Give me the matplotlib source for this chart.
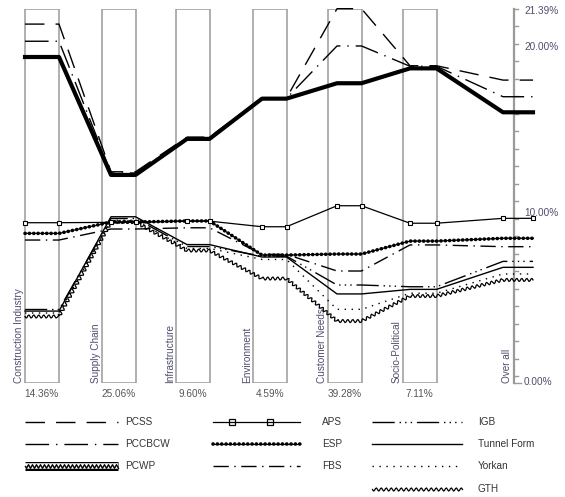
import matplotlib.pyplot as plt
from matplotlib.patches import Rectangle

plt.rcParams["font.family"] = ["Liberation Sans", "DejaVu Sans"]
plt.rcParams["font.size"] = 7.2

# ---- performance sensitivity data (% priority per criterion) ----------
criteria = ["Construction Industry", "Supply Chain", "Infrastructure",
            "Environment", "Customer Needs", "Socio-Political", "Over all"]
weights = [14.36, 25.06, 9.60, 4.59, 39.28, 7.11]

pcss = [20.51, 12.07, 14.05, 16.29, 21.39, 18.13, 17.31]
pccbcw = [19.53, 12.00, 14.00, 16.27, 19.26, 18.10, 16.36]
pcwp = [18.63, 11.89, 13.95, 16.25, 17.13, 17.98, 15.47]
aps = [9.16, 9.18, 9.25, 8.93, 10.13, 9.13, 9.41]
esp = [8.55, 9.20, 9.26, 7.31, 7.37, 8.11, 8.27]
fbs = [8.17, 8.80, 8.87, 7.35, 6.40, 7.89, 7.79]
igb = [4.20, 9.40, 7.80, 7.25, 5.60, 5.50, 6.95]
tunnel = [4.11, 9.50, 7.91, 7.20, 5.09, 5.35, 6.61]
yorkan = [4.00, 9.30, 7.69, 7.06, 4.21, 5.13, 6.23]
gth = [3.80, 9.20, 7.57, 5.97, 3.54, 4.97, 5.89]

alternatives = ["PCSS", "PCCBCW", "PCWP", "APS", "ESP", "FBS",
                "IGB", "Tunnel Form", "Yorkan", "GTH"]
series = dict(zip(alternatives, [pcss, pccbcw, pcwp, aps, esp, fbs,
                                 igb, tunnel, yorkan, gth]))

y_max = 21.39
axis_labels = [21.39, 20.0, 10.0, 0.0]

# ---- layout (pixel units) ---------------------------------------------
W, H = 565, 497
Y0_PX, YTOP_PX = 383, 8.7
bar_left = [25, 102, 176, 253, 328, 403]
bar_w = 33.5
spans = [(25, 59), (111, 135.5), (187, 209.5), (262, 286.5),
         (337, 361.5), (410, 436.5), (503, 533)]
axis_x = 514
label_shift = {21.39: 2, 20.0: 14, 10.0: 5, 0.0: -1}

legend_cols = [(25, 118, 125), (213, 300, 322), (372, 462, 478)]
legend_rows = [422, 444, 466, 489]
legend_slots = {"PCSS": (0, 0), "PCCBCW": (0, 1), "PCWP": (0, 2),
                "APS": (1, 0), "ESP": (1, 1), "FBS": (1, 2),
                "IGB": (2, 0), "Tunnel Form": (2, 1), "Yorkan": (2, 2),
                "GTH": (2, 3)}

label_col = "#4e4e6e"
grey = "#9a9a9a"

styles = {
    "PCSS": dict(ls=(0, (14, 8)), lw=1.0),
    "PCCBCW": dict(ls=(0, (17, 5, 1, 5)), lw=1.0),
    "PCWP": dict(ls="-", lw=3.0),
    "APS": dict(ls="-", lw=0.9),
    "FBS": dict(ls=(0, (11, 4, 1, 4)), lw=1.0),
    "IGB": dict(ls=(0, (16, 3.5, 1, 3, 1, 3, 1, 3.5)), lw=1.0),
    "Tunnel Form": dict(ls="-", lw=1.0),
    "Yorkan": dict(ls=(0, (1, 4)), lw=1.0),
}


def draw_line(a, name, xs, ys, legend=False):
    if name == "ESP":
        a.plot(xs, ys, color="black", lw=0.8, clip_on=False, zorder=4)
        a.plot(xs, ys, color="black", lw=2.6, ls=(0, (0.05, 1.15)),
               dash_capstyle="round", clip_on=False, zorder=4)
    elif name == "GTH":
        ln, = a.plot(xs, ys, color="black", lw=0.9, clip_on=False, zorder=4)
        ln.set_sketch_params(1.6, 5, 1)
    elif name == "PCWP" and legend:
        a.plot(xs, ys, color="black", lw=6.5, solid_capstyle="butt")
        a.plot(xs, ys, color="white", lw=4.0, solid_capstyle="butt")
        ln, = a.plot(xs, ys, color="black", lw=1.0)
        ln.set_sketch_params(1.8, 4, 1)
    else:
        a.plot(xs, ys, color="black", clip_on=False, zorder=4, **styles[name])
        if name == "APS" and not legend:
            a.plot(xs, ys, ls="none", marker="s", ms=3.2, mfc="white",
                   mec="black", mew=0.8, clip_on=False, zorder=5)


fig = plt.figure(figsize=(W / 100, H / 100), dpi=100)
ax = fig.add_axes([0, (H - Y0_PX) / H, 1, (Y0_PX - YTOP_PX) / H])
ax.set_xlim(0, W)
ax.set_ylim(0, y_max)
ax.axis("off")

over = fig.add_axes([0, 0, 1, 1], zorder=-1)
over.set_xlim(0, W)
over.set_ylim(H, 0)
over.axis("off")

# criterion bars and their labels
for left, name, w in zip(bar_left, criteria, weights):
    ax.add_patch(Rectangle((left, 0), bar_w, y_max, fill=False,
                           ec=grey, lw=1.1, zorder=1))
    ax.text(left - 1, 0, name, rotation=90, ha="right", va="bottom",
            color=label_col)
    over.text(left + bar_w / 2, 394, f"{w:.2f}%", ha="center",
              va="center", color="#555555")
ax.text(axis_x - 2, 0, criteria[-1], rotation=90, ha="right", va="bottom",
        color=label_col)

# right-hand scale
ax.plot([axis_x, axis_x], [0, y_max], color=grey, lw=1.6, clip_on=False)
k = 0
while y_max - k > 0:
    ax.plot([axis_x, axis_x + 4], [y_max - k] * 2, color=grey, lw=1.0,
            clip_on=False)
    k += 1
ax.plot([axis_x, axis_x + 7], [0, 0], color=grey, lw=1.0, clip_on=False)
for v in axis_labels:
    ax.annotate(f"{v:.2f}%", (axis_x + 10, v),
                xytext=(0, -label_shift[v] * 0.72), textcoords="offset points",
                ha="left", va="center", color=label_col,
                annotation_clip=False)

# alternative traces: flat over each criterion, straight between them
order = ["IGB", "Tunnel Form", "Yorkan", "GTH", "FBS", "APS", "ESP",
         "PCCBCW", "PCSS", "PCWP"]
for name in order:
    xs, ys = [], []
    for (x0, x1), v in zip(spans, series[name]):
        xs += [x0, x1]
        ys += [v, v]
    draw_line(ax, name, xs, ys)

# legend
for name in alternatives:
    c, r = legend_slots[name]
    x0, x1, tx = legend_cols[c]
    y = legend_rows[r]
    draw_line(over, name, [x0, x1], [y, y], legend=True)
    if name == "APS":
        over.plot([232, 270], [y, y], ls="none", marker="s", ms=4.5,
                  mfc="white", mec="black", mew=0.9)
    over.text(tx, y, name, ha="left", va="center", color="#333333")

fig.savefig("out.png", dpi=100)
